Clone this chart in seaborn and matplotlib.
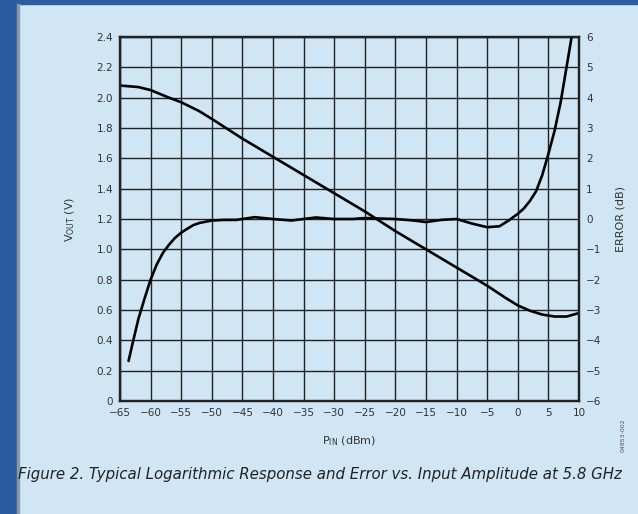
import pandas as pd
import seaborn as sns
import matplotlib.pyplot as plt
from matplotlib.patches import Rectangle

# VOUT curve (left axis, V)
pin_vout = [-65, -62, -60, -57, -55, -52, -50, -45, -40, -35, -30, -25, -20,
            -15, -10, -5, -2, 0, 2, 4, 6, 8, 10]
vout = [2.08, 2.07, 2.05, 2.00, 1.97, 1.91, 1.86, 1.73, 1.61, 1.49, 1.37, 1.25,
        1.12, 1.00, 0.88, 0.76, 0.68, 0.63, 0.595, 0.57, 0.557, 0.557, 0.58]

# Error curve (right axis, dB)
pin_err = [-63.6, -63, -62, -61, -60, -59, -58, -57, -56, -55, -54, -53, -52,
           -50, -48, -46, -43, -40, -37, -33, -30, -27, -25, -20, -17, -15,
           -12.5, -10, -7.5, -5, -3, -1.5, 0, 1, 2, 3, 4, 5, 6, 7, 8, 9]
err = [-4.68, -4.15, -3.3, -2.63, -2.0, -1.5, -1.12, -0.85, -0.62, -0.45, -0.32,
       -0.2, -0.13, -0.05, -0.03, -0.03, 0.06, 0.0, -0.05, 0.05, 0.0, 0.0, 0.03,
       0.0, -0.05, -0.1, -0.03, 0.0, -0.15, -0.27, -0.24, -0.05, 0.17, 0.35, 0.6,
       0.92, 1.45, 2.15, 2.9, 3.85, 5.05, 6.25]

x_ticks = list(range(-65, 11, 5))
vout_ticks = [0, 0.2, 0.4, 0.6, 0.8, 1.0, 1.2, 1.4, 1.6, 1.8, 2.0, 2.2, 2.4]
vout_labels = ["0", "0.2", "0.4", "0.6", "0.8", "1.0", "1.2", "1.4", "1.6",
               "1.8", "2.0", "2.2", "2.4"]
err_ticks = list(range(-6, 7))

BG = "#d0e6f4"
FRAME = "#2b5ba3"
INK = "#333333"

sns.set_style("white")
plt.rcParams["font.family"] = ["DejaVu Sans"]

df_v = pd.DataFrame({"pin": pin_vout, "vout": vout})
df_e = pd.DataFrame({"pin": pin_err, "err": err})

fig = plt.figure(figsize=(6.38, 5.14), dpi=100, facecolor=BG)
fig.patches.append(Rectangle((0, 0), 17 / 638, 1, transform=fig.transFigure,
                             color=FRAME, zorder=0))
fig.patches.append(Rectangle((0, 1 - 4 / 514), 1, 4 / 514, transform=fig.transFigure,
                             color=FRAME, zorder=0))
fig.patches.append(Rectangle((17 / 638, 0), 1.5 / 638, 1 - 4 / 514,
                             transform=fig.transFigure, color="#8a9aab", zorder=0))

ax = fig.add_axes([120 / 638, 113 / 514, 459 / 638, 364 / 514])
ax.set_facecolor(BG)
ax2 = ax.twinx()

sns.lineplot(data=df_v, x="pin", y="vout", ax=ax, color="black", linewidth=1.9)
sns.lineplot(data=df_e, x="pin", y="err", ax=ax2, color="black", linewidth=1.9)

ax.set_xlim(-65, 10)
ax.set_ylim(0, 2.4)
ax2.set_ylim(-6, 6)
ax.set_xticks(x_ticks)
ax.set_xticklabels([str(t).replace("-", "\u2212") for t in x_ticks])
ax.set_yticks(vout_ticks)
ax.set_yticklabels(vout_labels)
ax2.set_yticks(err_ticks)
ax2.set_yticklabels([str(t).replace("-", "\u2212") for t in err_ticks])

ax.grid(True, color="#222222", linewidth=1.0)
ax2.grid(False)
for a in (ax, ax2):
    for s in a.spines.values():
        s.set_color("#222222")
        s.set_linewidth(1.6)
    a.tick_params(length=0, labelsize=7.5, colors=INK, pad=5)

ax.set_xlabel(r"P$_{\mathrm{IN}}$ (dBm)", fontsize=8, color=INK, labelpad=12)
ax.set_ylabel(r"V$_{\mathrm{OUT}}$ (V)", fontsize=8, color=INK, labelpad=14)
ax2.set_ylabel("ERROR (dB)", fontsize=8, color=INK, labelpad=10, rotation=90)

# the caption runs past the right edge in the reference; kept just inside here
fig.text(18 / 638, 1 - 475 / 514,
         "Figure 2. Typical Logarithmic Response and Error vs. Input Amplitude at 5.8 GHz",
         fontsize=10.8, style="italic", color="#222222", va="center", ha="left")
fig.text(623 / 638, 1 - 435 / 514, "04853-002", fontsize=4.5, rotation=90,
         color="#555555", va="center", ha="center")

fig.savefig("out.png", dpi=100, facecolor=BG)
